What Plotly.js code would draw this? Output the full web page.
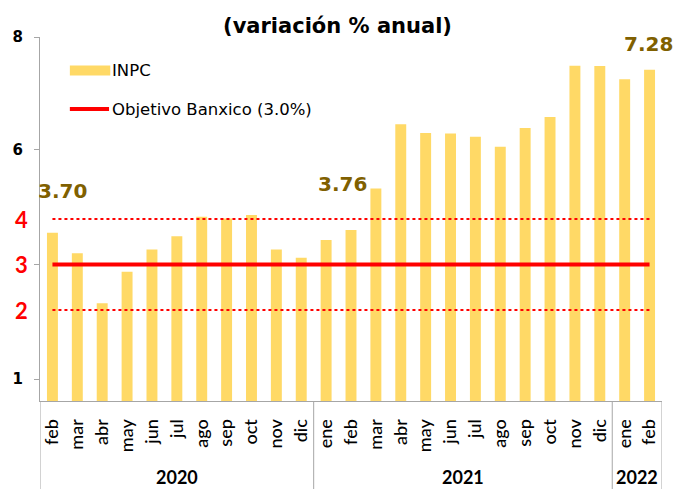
<!DOCTYPE html>
<html>
<head>
<meta charset="utf-8">
<script src="https://cdn.plot.ly/plotly-3.0.1.min.js"></script>
<style>html,body{margin:0;padding:0;background:#fff;}#chart{width:675px;height:489px;}</style>
</head>
<body>
<div id="chart"></div>
<script>
// ---- data ----
const meses = ["feb","mar","abr","may","jun","jul","ago","sep","oct","nov","dic",
               "ene","feb","mar","abr","may","jun","jul","ago","sep","oct","nov","dic",
               "ene","feb"];
const inpc = [3.70,3.25,2.15,2.84,3.33,3.62,4.05,4.01,4.09,3.33,3.15,
              3.54,3.76,4.67,6.08,5.89,5.88,5.81,5.59,6.00,6.24,7.37,7.36,
              7.07,7.28];
const anios = ["2020","2021","2022"];
const mesesPorAnio = [11,12,2];
const objetivo = 3.0;
const intervalo = [2.0, 4.0];
const etiquetasIzq = ["1","6","8"];
const posEtiquetasIzq = [0.48,5.52,8];   // where the left labels sit in the picture
const etiquetasRojas = ["4","3","2"];
const valoresRojos = [4,3,2];
const destacados = [0,12,24];             // bars whose value is written

// ---- build ----
const idx = meses.map((_, i) => i);
const first = idx[0], last = idx[idx.length - 1];

const traces = [
  {type:"bar", x:idx, y:inpc, marker:{color:"#FFD966"}, width:0.44,
   name:"INPC", showlegend:false, hoverinfo:"y"},
  {type:"scatter", mode:"lines", x:[first,last], y:[objetivo,objetivo],
   line:{color:"#FF0000", width:4}, name:"Objetivo Banxico (3.0%)", showlegend:false},
  {type:"scatter", mode:"lines", x:[first,last], y:[intervalo[1],intervalo[1]],
   line:{color:"#FF0000", width:2, dash:"dot"}, showlegend:false, hoverinfo:"skip"},
  {type:"scatter", mode:"lines", x:[first,last], y:[intervalo[0],intervalo[0]],
   line:{color:"#FF0000", width:2, dash:"dot"}, showlegend:false, hoverinfo:"skip"}
];

const grey = "#A6A6A6";
const shapes = [];
const annotations = [];

// group dividers and year labels
let start = -0.5;
shapes.push({type:"line", xref:"x", yref:"paper", x0:start, x1:start, y0:0, y1:-0.3,
             line:{color:grey, width:1}});
anios.forEach((a, k) => {
  const end = start + mesesPorAnio[k];
  shapes.push({type:"line", xref:"x", yref:"paper", x0:end, x1:end, y0:0, y1:-0.3,
               line:{color:grey, width:1}});
  annotations.push({xref:"x", yref:"paper", x:(start+end)/2, y:-0.21, yanchor:"middle",
    text:a, showarrow:false, font:{family:"Lato", size:18, color:"#000", weight:"bold"}});
  start = end;
});

// red labels
etiquetasRojas.forEach((t, k) => {
  annotations.push({xref:"paper", yref:"y", x:-0.016, y:valoresRojos[k], xanchor:"right",
    yanchor:"middle", text:t, showarrow:false,
    font:{family:"Lato", size:22, color:"#FF0000", weight:"bold"}});
});

// value labels
const shifts = {0:[10,28], 12:[-9,32], 24:[-1,12]};
destacados.forEach(i => {
  annotations.push({xref:"x", yref:"y", x:i, y:inpc[i], xanchor:"center", yanchor:"bottom",
    xshift:shifts[i][0], yshift:shifts[i][1], text:inpc[i].toFixed(2), showarrow:false,
    font:{family:"DejaVu Sans", size:20, color:"#806000", weight:"bold"}});
});

// legend (manual)
shapes.push({type:"rect", xref:"paper", yref:"paper", x0:0.048, x1:0.113, y0:0.894, y1:0.922,
             fillcolor:"#FFD966", line:{width:0}});
shapes.push({type:"line", xref:"paper", yref:"paper", x0:0.048, x1:0.111, y0:0.802, y1:0.802,
             line:{color:"#FF0000", width:4}});
annotations.push({xref:"paper", yref:"paper", x:0.113, y:0.908, xanchor:"left", yanchor:"middle",
  text:"INPC", showarrow:false, font:{family:"DejaVu Sans", size:16.5, color:"#000"}});
annotations.push({xref:"paper", yref:"paper", x:0.113, y:0.802, xanchor:"left", yanchor:"middle",
  text:"Objetivo Banxico (3.0%)", showarrow:false, font:{family:"DejaVu Sans", size:16.5, color:"#000"}});

const layout = {
  width:675, height:489,
  margin:{l:40, r:13, t:37, b:88},
  paper_bgcolor:"#fff", plot_bgcolor:"#fff",
  title:{text:"<b>(variación % anual)</b>", x:0.5, xanchor:"center", y:0.963, yanchor:"top",
         font:{family:"DejaVu Sans", size:21, color:"#000"}},
  showlegend:false,
  bargap:0.56,
  xaxis:{range:[-0.5, 24.5], tickvals:idx, ticktext:meses, tickangle:-90,
         showgrid:false, zeroline:false, showline:true, linecolor:grey, linewidth:1,
         ticks:"", ticklabelstandoff:10, tickfont:{family:"Lato", size:18, color:"#000", weight:500}, fixedrange:true},
  yaxis:{range:[0, 8], tickvals:[posEtiquetasIzq[0], objetivo, posEtiquetasIzq[1], posEtiquetasIzq[2]],
         ticktext:[etiquetasIzq[0], "", etiquetasIzq[1], etiquetasIzq[2]],
         showgrid:false, zeroline:false, showline:true, linecolor:grey, linewidth:1,
         ticks:"outside", ticklen:5, tickcolor:grey, ticklabelstandoff:8,
         tickfont:{family:"DejaVu Sans", size:15, color:"#000", weight:"bold"}, fixedrange:true},
  shapes:shapes,
  annotations:annotations
};

Plotly.newPlot("chart", traces, layout, {displayModeBar:false, staticPlot:true});
</script>
</body>
</html>
